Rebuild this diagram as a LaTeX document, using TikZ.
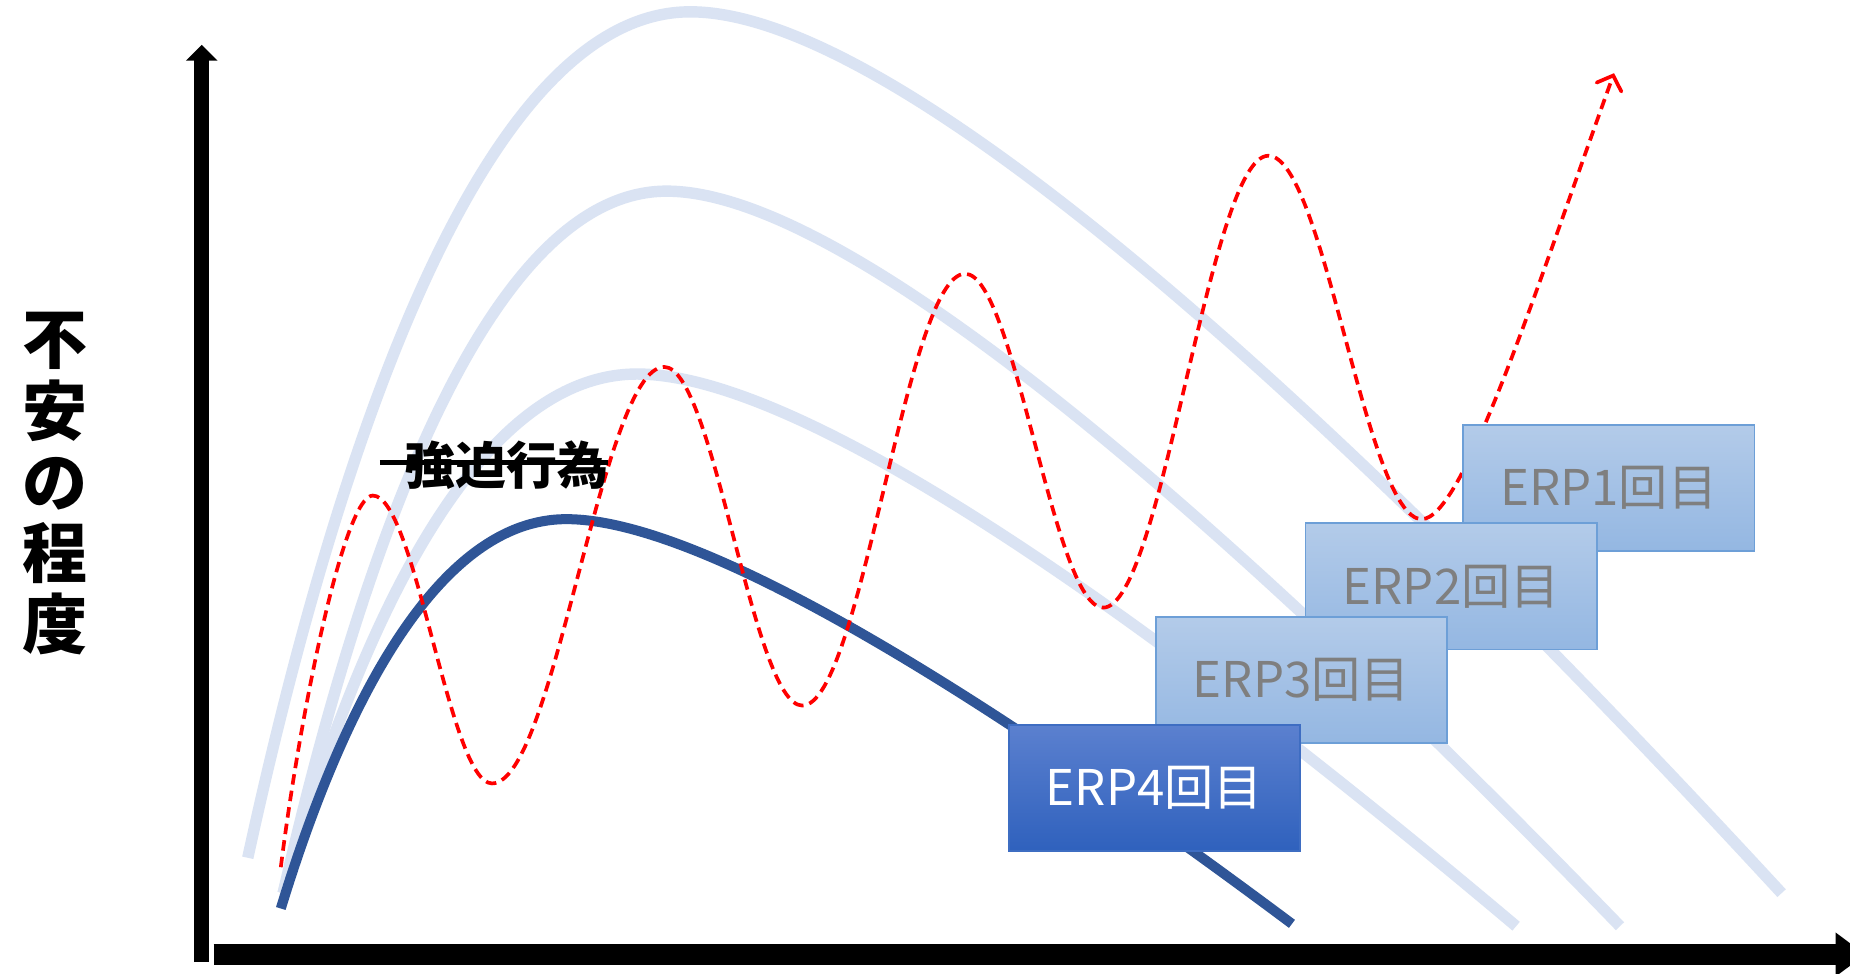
\documentclass[tikz,border=0pt]{standalone}
\usepackage{fontspec}
\newfontfamily\jpfont{Noto Sans CJK JP}
\usetikzlibrary{arrows.meta}
\definecolor{curvelight}{HTML}{DAE3F3}
\definecolor{curvedark}{HTML}{2F5597}
\definecolor{boxlighttop}{HTML}{B3CBE9}
\definecolor{boxlightbot}{HTML}{94B7E2}
\definecolor{boxlightedge}{HTML}{6D9FD7}
\definecolor{boxdarktop}{HTML}{5B80CF}
\definecolor{boxdarkbot}{HTML}{2F61BD}
\definecolor{boxdarkedge}{HTML}{3E6DC2}
\definecolor{erpgray}{HTML}{7F7F7F}
\begin{document}
\begin{tikzpicture}[x=0.0236cm,y=-0.0236cm,
  lightcurve/.style={line width=6.5pt, color=curvelight},
  darkcurve/.style={line width=5.7pt, color=curvedark},
  reddash/.style={line width=2.1pt, color=red, dash pattern=on 6pt off 3.5pt},
  erpbox/.style={draw, line width=1pt, minimum width=5.83cm, minimum height=2.525cm, inner sep=0pt,
    font=\jpfont\fontsize{28}{28}\selectfont},
  erplight/.style={erpbox, draw=boxlightedge, top color=boxlighttop, bottom color=boxlightbot, text=erpgray},
  erpdark/.style={erpbox, draw=boxdarkedge, top color=boxdarktop, bottom color=boxdarkbot, text=white}
]
\clip (0,0) rectangle (1568,825);
\fill[white] (0,0) rectangle (1568,825);

% light blue curves
\draw[lightcurve] (210,727) .. controls (290.6,357.7) and (414.4,10) .. (585,10)
  .. controls (765,10) and (1142,358) .. (1510,757);
\draw[lightcurve] (240,757) .. controls (310,450.6) and (417,162) .. (565,162)
  .. controls (722.6,162) and (1051,452.3) .. (1373,785);
\draw[lightcurve] (240,757) .. controls (304.5,530.4) and (403.5,317) .. (540,317)
  .. controls (685,317) and (988.5,535) .. (1285,785);

% dark blue curve
\draw[darkcurve] (238,770) .. controls (290,600) and (370,440) .. (480,440)
  .. controls (600,440) and (850,600) .. (1095,783);

% red dashed curve
\draw[reddash, -{Straight Barb[length=7pt,width=15pt,line cap=round]}]
  (238,735) .. controls (255,600) and (292,420) .. (316,420)
  .. controls (352,420) and (381,664) .. (417,664)
  .. controls (470,664) and (510,311) .. (563,311)
  .. controls (605,311) and (638,598) .. (680,598)
  .. controls (730,598) and (768,232) .. (818,232)
  .. controls (860,232) and (893,515) .. (935,515)
  .. controls (985,515) and (1025,132) .. (1075,132)
  .. controls (1122,132) and (1158,440) .. (1205,440)
  .. controls (1240,440) and (1300,250) .. (1368,62);

% label with strike line
\node[font=\jpfont\bfseries\fontsize{29}{29}\selectfont, inner sep=0pt] (lbl) at (429,394) {強迫行為};
\draw[line width=2.3pt] (322,392) -- (515,392);

% axes
\draw[line width=8.5pt, -{Triangle[length=9pt,width=17.5pt]}] (171,815.5) -- (171,38);
\draw[line width=12pt, -{Triangle[length=17pt,width=24pt]}] (181,809) -- (1581,809);

% y label
\node[font=\jpfont\bfseries\fontsize{37}{40.5}\selectfont, align=center, inner sep=0pt] (ylab) at (46.6,410)
  {不\\安\\の\\程\\度};

% ERP boxes
\node[erplight] (erp1) at (1363.5,413.5) {ERP1回目};
\node[erplight] (erp2) at (1230,497) {ERP2回目};
\node[erplight] (erp3) at (1103,576.5) {ERP3回目};
\node[erpdark] (erp4) at (978.5,668) {ERP4回目};
\end{tikzpicture}
\end{document}
